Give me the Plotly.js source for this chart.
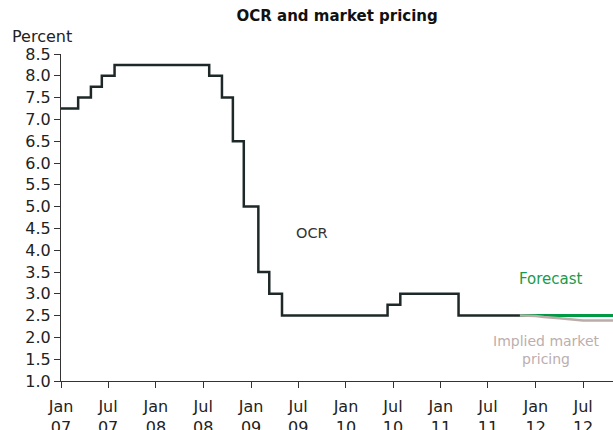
<!DOCTYPE html>
<html>
<head>
<meta charset="utf-8">
<script src="https://cdn.plot.ly/plotly-3.0.1.min.js"></script>
<style>
  body { margin: 0; background: #fff; }
  #myPlot { width: 613px; height: 430px; }
</style>
</head>
<body>
<div id="myPlot"></div>
<script>
// OCR decision dates and levels (step line)
const ocrDates = ["2007-01-01","2007-03-08","2007-04-26","2007-06-07","2007-07-26",
  "2008-07-24","2008-09-11","2008-10-23","2008-12-04","2009-01-29","2009-03-12",
  "2009-04-30","2010-06-10","2010-07-29","2011-03-10","2011-11-01"];
const ocrRate = [7.25,7.5,7.75,8.0,8.25,8.0,7.5,6.5,5.0,3.5,3.0,2.5,2.75,3.0,2.5,2.5];

// projections from Nov 2011
const fcDates = ["2011-11-01","2012-01-01","2012-04-01","2012-07-01","2012-11-01"];
const fcRate = [2.5,2.5,2.5,2.5,2.5];

const mktDates = ["2011-11-01","2011-12-01","2012-01-01","2012-02-01","2012-03-01","2012-04-01",
  "2012-05-01","2012-06-01","2012-07-01","2012-08-01","2012-09-01","2012-10-01","2012-11-01"];
const mktRate = [2.5,2.5,2.49,2.47,2.46,2.44,2.42,2.40,2.39,2.39,2.39,2.39,2.39];

const tickDates = ["2007-01-01","2007-07-01","2008-01-01","2008-07-01","2009-01-01","2009-07-01",
  "2010-01-01","2010-07-01","2011-01-01","2011-07-01","2012-01-01","2012-07-01"];
const tickText = ["Jan<br>07","Jul<br>07","Jan<br>08","Jul<br>08","Jan<br>09","Jul<br>09",
  "Jan<br>10","Jul<br>10","Jan<br>11","Jul<br>11","Jan<br>12","Jul<br>12"];
const yTicks = [1.0,1.5,2.0,2.5,3.0,3.5,4.0,4.5,5.0,5.5,6.0,6.5,7.0,7.5,8.0,8.5];

const font = "DejaVu Sans, Verdana, sans-serif";

const data = [
  {x: fcDates, y: fcRate, mode: "lines", line: {color: "#009a44", width: 3}, hoverinfo: "skip"},
  {x: mktDates, y: mktRate, mode: "lines", line: {color: "#b9aca9", width: 2.5}, hoverinfo: "skip"},
  {x: ocrDates, y: ocrRate, mode: "lines", line: {color: "#1f2828", width: 2.5, shape: "hv"}, hoverinfo: "skip"}
];

const layout = {
  width: 613,
  height: 430,
  margin: {l: 61, r: 0, t: 54, b: 49},
  paper_bgcolor: "#fff",
  plot_bgcolor: "#fff",
  showlegend: false,
  font: {family: font, size: 16, color: "#222"},
  title: {
    text: "<b>OCR and market pricing</b>",
    font: {family: "DejaVu Sans, Arial, sans-serif", size: 15, color: "#111"},
    xref: "container", x: 0.55, xanchor: "center",
    yref: "container", y: 0.963, yanchor: "middle"
  },
  xaxis: {
    type: "date",
    range: ["2007-01-01", "2012-10-24"],
    tickmode: "array",
    tickvals: tickDates,
    ticktext: tickText,
    ticks: "outside",
    ticklen: 6,
    tickcolor: "#333",
    ticklabelstandoff: 5,
    showline: true,
    linecolor: "#333",
    linewidth: 1,
    showgrid: false,
    zeroline: false,
    tickangle: 0,
    tickfont: {family: font, size: 16, color: "#222"}
  },
  yaxis: {
    range: [1, 8.5],
    tickmode: "array",
    tickvals: yTicks,
    ticktext: yTicks.map(v => v.toFixed(1)),
    ticks: "outside",
    ticklen: 6,
    tickcolor: "#333",
    showline: true,
    linecolor: "#333",
    linewidth: 1,
    showgrid: false,
    zeroline: false,
    tickfont: {family: font, size: 16, color: "#222"}
  },
  annotations: [
    {text: "Percent", xref: "paper", yref: "paper", x: -0.0924, y: 1.052,
     xanchor: "left", yanchor: "middle", showarrow: false,
     font: {family: font, size: 16, color: "#222"}},
    {text: "OCR", xref: "x", yref: "y", x: "2009-08-25", y: 4.4,
     xanchor: "center", yanchor: "middle", showarrow: false,
     font: {family: font, size: 14.5, color: "#333"}},
    {text: "Forecast", xref: "x", yref: "y", x: "2012-03-01", y: 3.35,
     xanchor: "center", yanchor: "middle", showarrow: false,
     font: {family: font, size: 15, color: "#1a9a4a"}},
    {text: "Implied market<br>pricing", xref: "x", yref: "y", x: "2012-02-10", y: 1.72,
     xanchor: "center", yanchor: "middle", showarrow: false,
     font: {family: font, size: 14, color: "#bcaeae"}}
  ]
};

Plotly.newPlot("myPlot", data, layout, {staticPlot: true, displayModeBar: false});
</script>
</body>
</html>
